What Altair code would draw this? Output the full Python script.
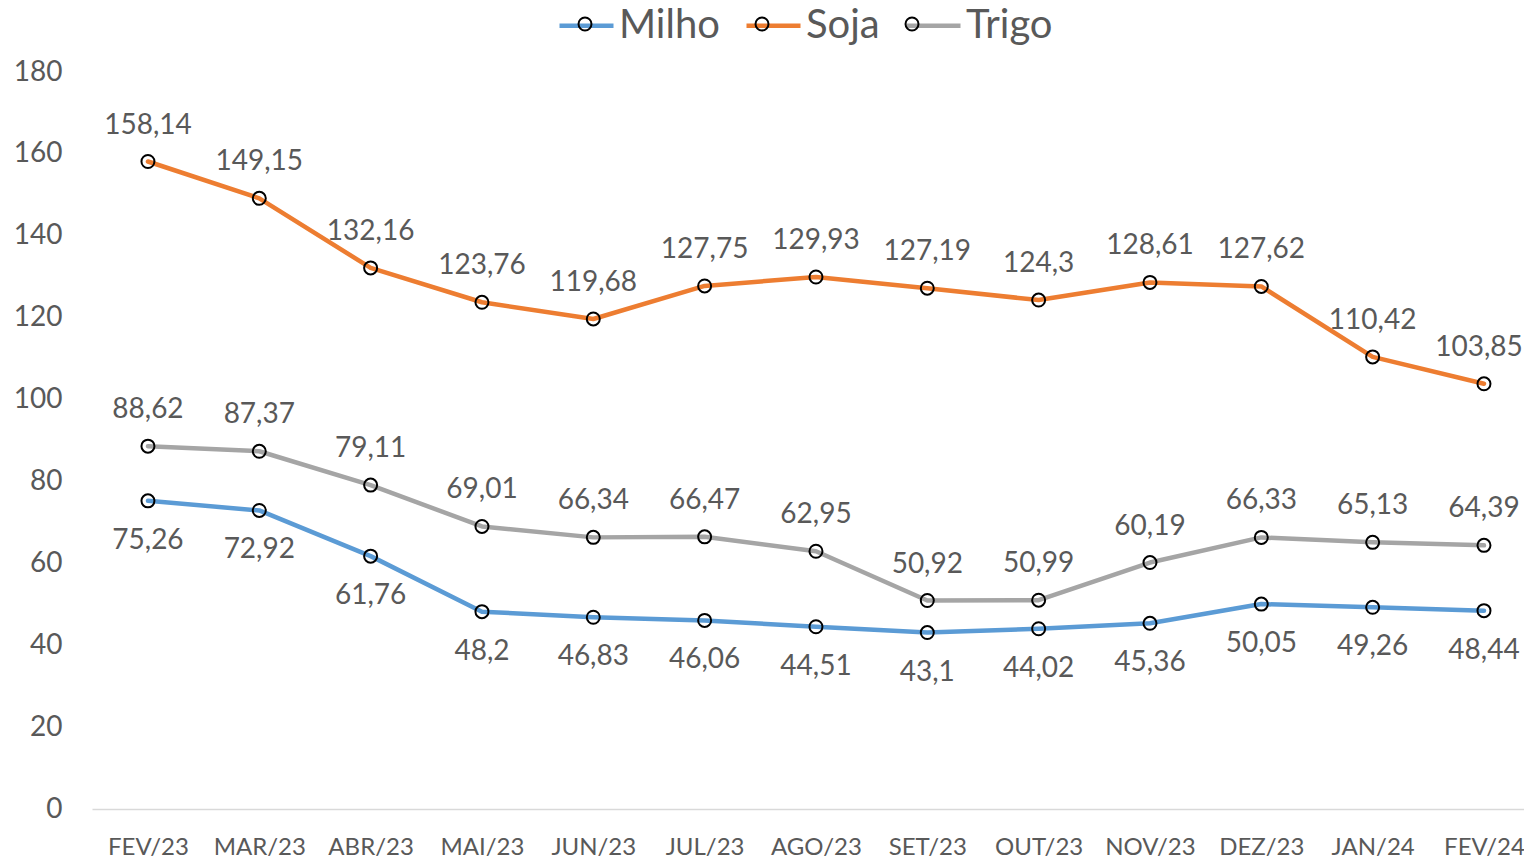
import altair as alt
import pandas as pd

months = ["FEV/23", "MAR/23", "ABR/23", "MAI/23", "JUN/23", "JUL/23", "AGO/23",
          "SET/23", "OUT/23", "NOV/23", "DEZ/23", "JAN/24", "FEV/24"]
milho = [75.26, 72.92, 61.76, 48.2, 46.83, 46.06, 44.51, 43.1, 44.02, 45.36, 50.05, 49.26, 48.44]
soja = [158.14, 149.15, 132.16, 123.76, 119.68, 127.75, 129.93, 127.19, 124.3, 128.61, 127.62, 110.42, 103.85]
trigo = [88.62, 87.37, 79.11, 69.01, 66.34, 66.47, 62.95, 50.92, 50.99, 60.19, 66.33, 65.13, 64.39]
series = ["Milho", "Soja", "Trigo"]
colors = ["#5B9BD5", "#ED7D31", "#A5A5A5"]

rows = []
for name, vals in zip(series, [milho, soja, trigo]):
    for m, v in zip(months, vals):
        rows.append({"mes": m, "serie": name, "valor": v,
                     "rotulo": ("%g" % v).replace(".", ",")})
df = pd.DataFrame(rows)

FONT = "Lato"
TXT = "#595959"

x = alt.X("mes:N", sort=months, scale=alt.Scale(type="point", padding=0.431, align=0.583),
          axis=alt.Axis(title=None, labelAngle=0, labelFontSize=24, labelColor=TXT,
                        labelFont=FONT, ticks=False, domainColor="#D9D9D9",
                        domainWidth=1.5, labelPadding=26, grid=False))
y = alt.Y("valor:Q", scale=alt.Scale(domain=[0, 180], nice=False),
          axis=alt.Axis(title=None, values=list(range(0, 181, 20)), labelFontSize=28,
                        labelColor=TXT, labelFont=FONT, ticks=False, domain=False,
                        grid=False, labelPadding=30))

base = alt.Chart(df)

line_path = "M-1,0L1,0"
circle_path = "M-0.24,0A0.24,0.24,0,1,1,0.24,0A0.24,0.24,0,1,1,-0.24,0Z"

leg_common = dict(title=None, orient="none", direction="horizontal",
                  legendX=465, legendY=-76, symbolSize=2916,
                  labelFontSize=40, labelFont=FONT, labelColor=TXT,
                  labelOffset=3, columnPadding=17)

lines = base.mark_line(strokeWidth=4.5, strokeCap="round", strokeJoin="round").encode(
    x=x, y=y,
    color=alt.Color("serie:N", scale=alt.Scale(domain=series, range=colors),
                    legend=alt.Legend(symbolType=line_path, symbolStrokeWidth=4.5,
                                      **leg_common)),
)

points = base.mark_point(shape="circle", filled=False, size=169, strokeWidth=2,
                         opacity=1).encode(
    x=x, y=y,
    stroke=alt.Stroke("serie:N", scale=alt.Scale(domain=series, range=["black"] * 3),
                      legend=alt.Legend(symbolType=circle_path, symbolStrokeWidth=2,
                                        symbolFillColor="transparent", labelOpacity=0,
                                        **leg_common)),
)

last = months[-1]
is_edge = (alt.datum.serie == "Soja") & (alt.datum.mes == last)

labels_above = base.transform_filter(
    (alt.datum.serie != "Milho") & ~is_edge
).mark_text(dy=-36, fontSize=28, font=FONT, color=TXT).encode(x=x, y=y, text="rotulo:N")
labels_edge = base.transform_filter(is_edge).mark_text(
    dy=-36, dx=-5, fontSize=28, font=FONT, color=TXT).encode(x=x, y=y, text="rotulo:N")
labels_below = base.transform_filter(alt.datum.serie == "Milho").mark_text(
    dy=40, fontSize=28, font=FONT, color=TXT).encode(x=x, y=y, text="rotulo:N")

chart = alt.layer(lines, points, labels_above, labels_edge, labels_below).resolve_scale(
    color="independent", stroke="independent"
).properties(
    width=1432, height=737,
    autosize=alt.AutoSizeParams(type="none"),
    padding={"left": 84, "top": 64, "right": 0, "bottom": 50},
).configure(background="white").configure_view(strokeWidth=0, stroke="transparent")

chart.save("out.html", embed_options={"renderer": "svg", "actions": False})
